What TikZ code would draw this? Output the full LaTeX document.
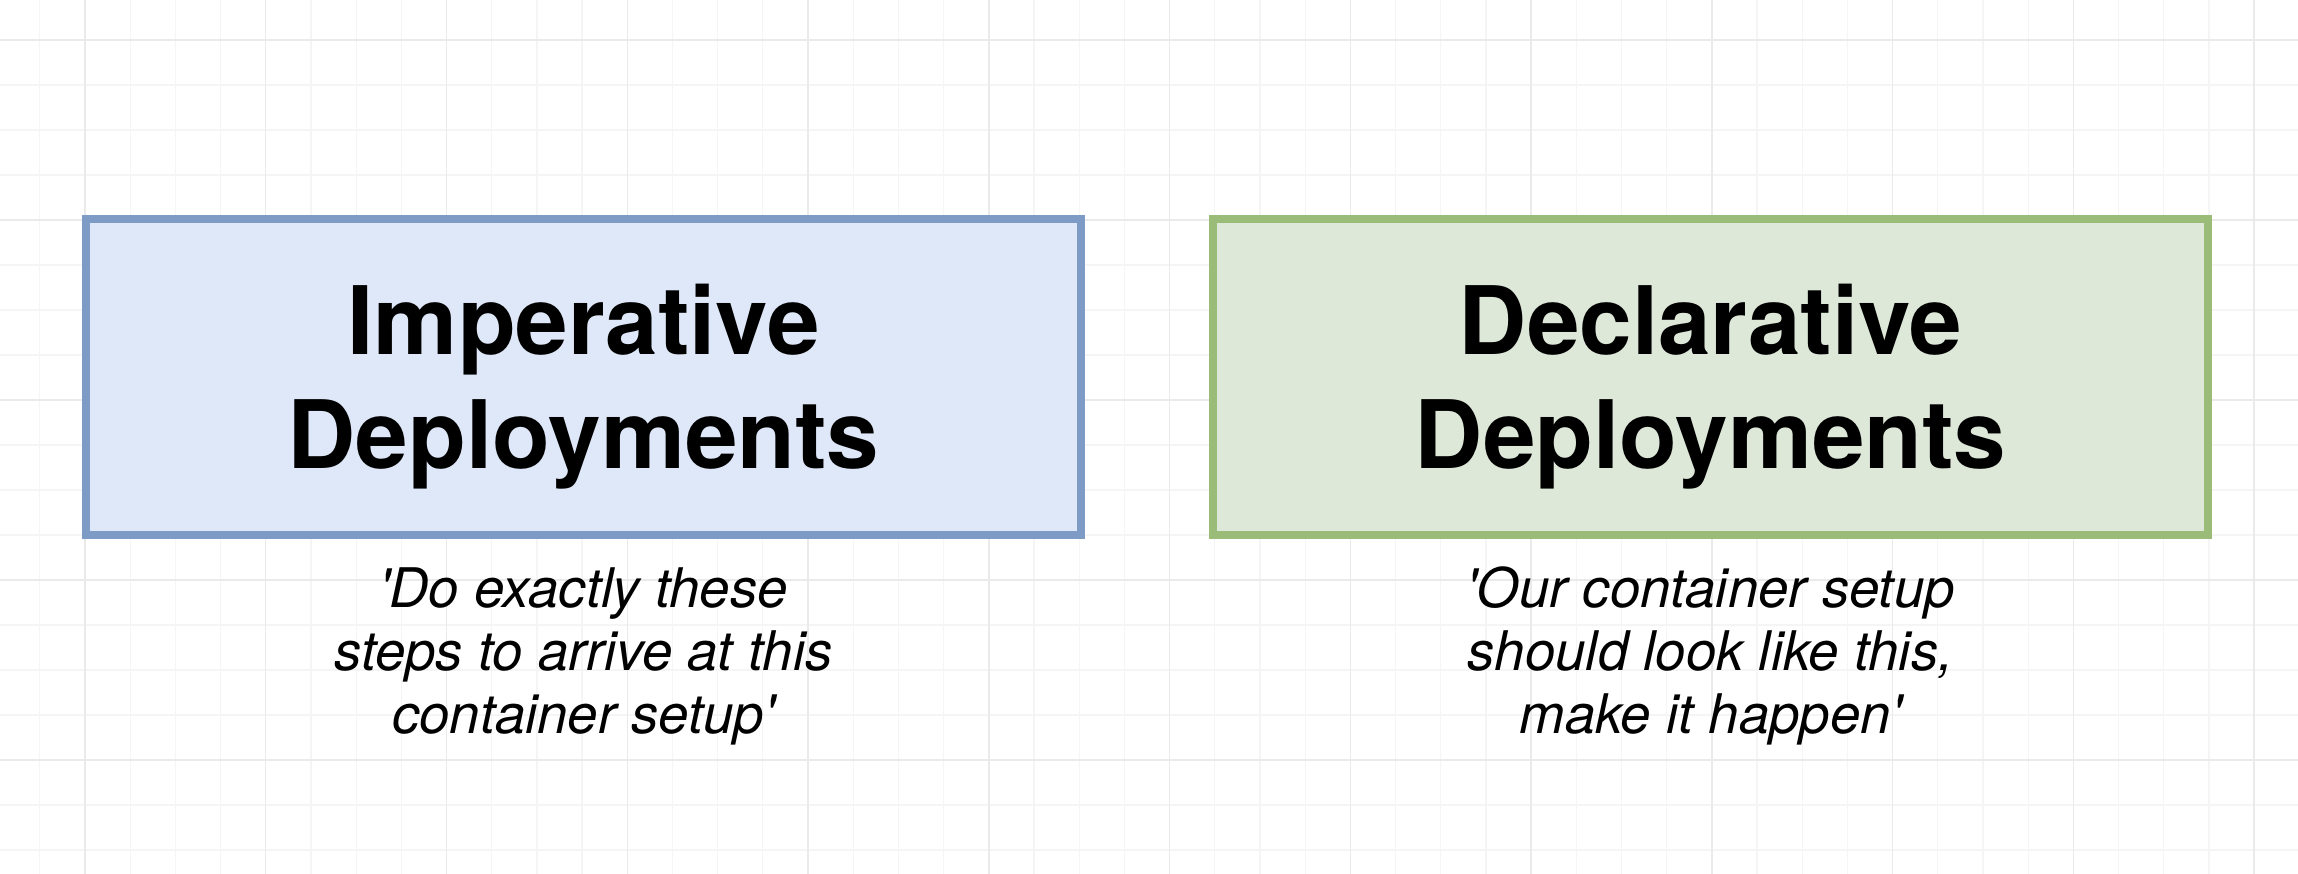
\documentclass[tikz,border=0pt]{standalone}
\usepackage{fontspec}
\setmainfont{TeX Gyre Heros}
\definecolor{impfill}{HTML}{DFE8F8}
\definecolor{impdraw}{HTML}{7E9BC5}
\definecolor{decfill}{HTML}{DEE8D9}
\definecolor{decdraw}{HTML}{9BBB79}
\definecolor{minorgrid}{HTML}{F5F5F5}
\definecolor{majorgrid}{HTML}{EAEAEA}
\tikzset{
  minorline/.style={draw=minorgrid, line width=1.2pt},
  majorline/.style={draw=majorgrid, line width=1.4pt},
  deploybox/.style={rectangle, line width=8pt, minimum width=995pt, minimum height=316pt, inner sep=0pt},
  impbox/.style={deploybox, draw=impdraw, fill=impfill},
  decbox/.style={deploybox, draw=decdraw, fill=decfill},
  titletext/.style={align=center, inner sep=0pt, font=\bfseries\fontsize{94.5}{114}\selectfont},
  subtext/.style={align=center, inner sep=0pt, font=\itshape\fontsize{54.6}{63}\selectfont}
}
\begin{document}
\begin{tikzpicture}[x=1pt,y=-1pt]
\useasboundingbox (0,0) rectangle (2298,874);
\fill[white] (0,0) rectangle (2298,874);
% grid
\foreach \i in {-1,...,49} {
  \draw[minorline] ({85+\i*45.19},0) -- ({85+\i*45.19},874);
}
\foreach \j in {-1,...,19} {
  \draw[minorline] (0,{40+\j*45}) -- (2298,{40+\j*45});
}
\foreach \i in {0,...,12} {
  \draw[majorline] ({85+\i*180.76},0) -- ({85+\i*180.76},874);
}
\foreach \j in {0,...,4} {
  \draw[majorline] (0,{40+\j*180}) -- (2298,{40+\j*180});
}
% boxes
\node[impbox] (imp) at (583.5,377) {};
\node[decbox] (dec) at (1710.5,377) {};
% titles
\node[titletext] (imptitle) at (583.5,387) {Imperative\\Deployments};
\node[titletext] (dectitle) at (1710.5,387) {Declarative\\Deployments};
% subtitles
\node[subtext] (impsub) at (583.5,656) {\textquotesingle Do exactly these\\steps to arrive at this\\container setup\textquotesingle};
\node[subtext] (decsub) at (1710.5,656) {\textquotesingle Our container setup\\should look like this,\\make it happen\textquotesingle};
\end{tikzpicture}
\end{document}
